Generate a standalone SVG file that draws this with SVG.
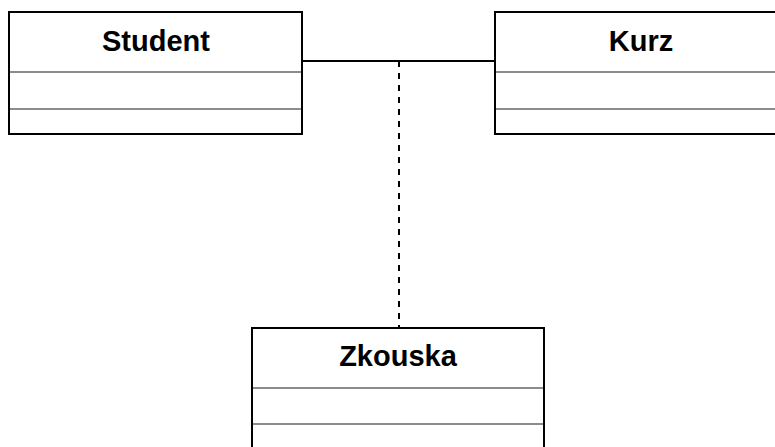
<svg xmlns="http://www.w3.org/2000/svg" width="775" height="447" viewBox="0 0 775 447">
<style>
.box{fill:#fff;stroke:#000;stroke-width:2}
.sep{stroke:#8c8c8c;stroke-width:2}
.t{font-family:"Liberation Sans",Arial,sans-serif;font-weight:bold;font-size:29px;text-anchor:middle;fill:#000}
.c{stroke:#000;stroke-width:2;fill:none}
</style>
<rect width="775" height="447" fill="#fff"/>
<g id="connectors">
<line class="c" x1="302" y1="61" x2="495" y2="61"/>
<line class="c" x1="399" y1="61" x2="399" y2="328" stroke-dasharray="6,6"/>
</g>
<g id="Student">
<rect class="box" x="9" y="12" width="293" height="122"/>
<line class="sep" x1="10" y1="72" x2="301" y2="72"/>
<line class="sep" x1="10" y1="109" x2="301" y2="109"/>
<text class="t" x="156" y="51">Student</text>
</g>
<g id="Kurz">
<rect class="box" x="495" y="12" width="293" height="122"/>
<line class="sep" x1="496" y1="72" x2="787" y2="72"/>
<line class="sep" x1="496" y1="109" x2="787" y2="109"/>
<text class="t" x="641" y="51">Kurz</text>
</g>
<g id="Zkouska">
<rect class="box" x="252" y="328" width="292" height="122"/>
<line class="sep" x1="253" y1="388" x2="543" y2="388"/>
<line class="sep" x1="253" y1="424" x2="543" y2="424"/>
<text class="t" x="398" y="366">Zkouska</text>
</g>
</svg>
